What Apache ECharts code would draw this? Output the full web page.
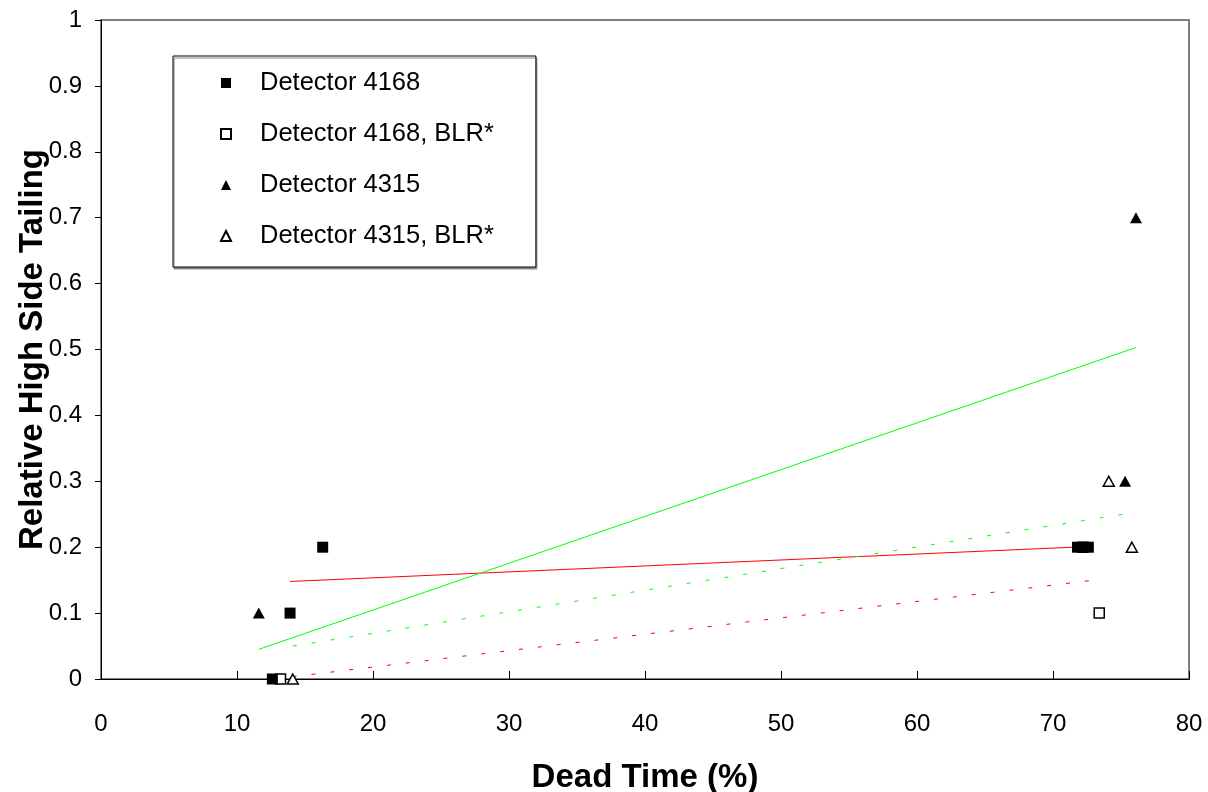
<!DOCTYPE html>
<html>
<head>
<meta charset="utf-8">
<script src="https://cdn.jsdelivr.net/npm/echarts@6/dist/echarts.min.js"></script>
<style>
  html, body { margin: 0; padding: 0; background: #fff; }
  #chart { width: 1208px; height: 792px; }
</style>
</head>
<body>
<div id="chart"></div>
<script>
// data
const det4168X = [12.6, 13.9, 16.3, 71.8, 72.6];
const det4168Y = [0, 0.1, 0.2, 0.2, 0.2];
const det4168BlrX = [13.2, 72.2, 73.4];
const det4168BlrY = [0, 0.2, 0.1];
const det4315X = [11.6, 75.3, 76.1];
const det4315Y = [0.1, 0.3, 0.7];
const det4315BlrX = [14.1, 74.1, 75.8];
const det4315BlrY = [0, 0.3, 0.2];

// trendline end points (Excel linear fits)
const trend4168X = [13.9, 72.6];
const trend4168Y = [0.148, 0.201];
const trend4168BlrX = [12.7, 73.4];
const trend4168BlrY = [0.0, 0.151];
const trend4315X = [11.6, 76.1];
const trend4315Y = [0.045, 0.503];
const trend4315BlrX = [14.1, 75.8];
const trend4315BlrY = [0.05, 0.252];

const names = ['Detector 4168', 'Detector 4168, BLR*', 'Detector 4315', 'Detector 4315, BLR*'];

function pairs(xs, ys) {
    return xs.map((x, i) => [x, ys[i]]);
}

const font = 'Arial, "Liberation Sans", sans-serif';
const filled = {color: '#000', opacity: 1};
const hollow = {color: '#fff', borderColor: '#000', borderWidth: 1.5, opacity: 1};

function trend(xs, ys, color, dotted) {
    return {
        type: 'line',
        data: pairs(xs, ys),
        symbol: 'none',
        silent: true,
        z: 1,
        lineStyle: {color: color, width: 1, type: dotted ? [4, 15] : 'solid'}
    };
}

const myChart = echarts.init(document.getElementById('chart'));
myChart.setOption({
    animation: false,
    backgroundColor: '#fff',
    textStyle: {fontFamily: font},
    grid: {
        left: 101, top: 20, right: 19, bottom: 113,
        outerBoundsMode: 'none', containLabel: false,
        show: true, borderColor: '#808080', borderWidth: 2, backgroundColor: '#fff'
    },
    legend: {
        data: names,
        orient: 'vertical',
        left: 173, top: 56,
        padding: [14, 42, 18, 47],
        itemGap: 25,
        itemWidth: 10, itemHeight: 10,
        backgroundColor: '#fff',
        borderColor: '#000', borderWidth: 1,
        shadowColor: '#888', shadowOffsetX: 1, shadowOffsetY: 2, shadowBlur: 0,
        textStyle: {fontSize: 25.5, lineHeight: 26, color: '#000', fontFamily: font, padding: [0, 0, 0, 24]}
    },
    xAxis: {
        type: 'value', min: 0, max: 80, interval: 10,
        name: 'Dead Time (%)', nameLocation: 'middle', nameGap: 82,
        nameMoveOverlap: false,
        nameTextStyle: {fontSize: 33, fontWeight: 'bold', color: '#000', fontFamily: font},
        axisLine: {onZero: false, lineStyle: {color: '#000', width: 1}},
        axisTick: {inside: true, length: 8, lineStyle: {color: '#000'}},
        axisLabel: {fontSize: 24, color: '#000', margin: 33, fontFamily: font},
        splitLine: {show: false}
    },
    yAxis: {
        type: 'value', min: 0, max: 1, interval: 0.1,
        name: 'Relative High Side Tailing', nameLocation: 'middle', nameGap: 52,
        nameMoveOverlap: false,
        nameTextStyle: {fontSize: 33, fontWeight: 'bold', color: '#000', fontFamily: font},
        axisLine: {onZero: false, lineStyle: {color: '#000', width: 1}},
        axisTick: {inside: false, length: 6, lineStyle: {color: '#000'}},
        axisLabel: {fontSize: 24, color: '#000', margin: 19, fontFamily: font},
        splitLine: {show: false}
    },
    series: [
        trend(trend4168X, trend4168Y, '#ff0000', false),
        trend(trend4168BlrX, trend4168BlrY, '#ff0000', true),
        trend(trend4315X, trend4315Y, '#00ff00', false),
        trend(trend4315BlrX, trend4315BlrY, '#00ff00', true),
        {name: names[0], type: 'scatter', symbol: 'rect', symbolSize: 11, z: 3,
            itemStyle: filled, data: pairs(det4168X, det4168Y)},
        {name: names[1], type: 'scatter', symbol: 'rect', symbolSize: 10, z: 2,
            itemStyle: hollow, data: pairs(det4168BlrX, det4168BlrY)},
        {name: names[2], type: 'scatter', symbol: 'triangle', symbolSize: [12, 11], z: 3,
            itemStyle: filled, data: pairs(det4315X, det4315Y)},
        {name: names[3], type: 'scatter', symbol: 'triangle', symbolSize: [11, 10], z: 3,
            itemStyle: hollow, data: pairs(det4315BlrX, det4315BlrY)}
    ]
});
</script>
</body>
</html>
